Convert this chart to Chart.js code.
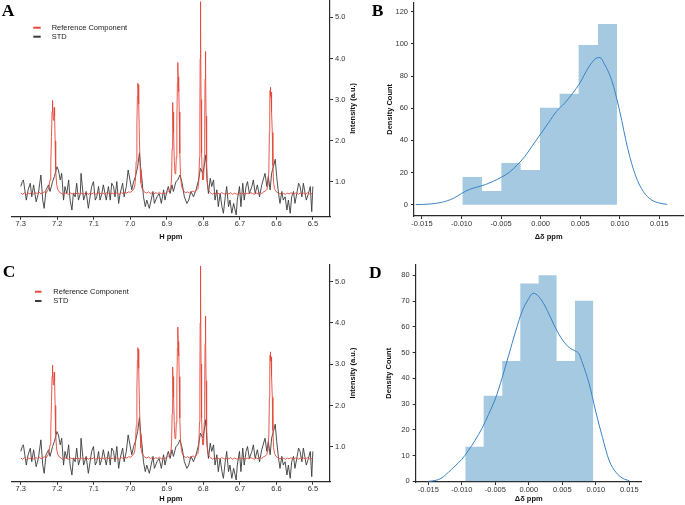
<!DOCTYPE html>
<html><head><meta charset="utf-8">
<script src="https://cdn.jsdelivr.net/npm/chart.js@4/dist/chart.umd.min.js"></script>
<style>
html,body{margin:0;padding:0;background:#fff;overflow:hidden;width:685px;height:505px}
canvas{position:absolute;left:0;top:0}
</style>
</head><body>
<canvas id="cA" width="685" height="505"></canvas>
<canvas id="cB" width="685" height="505"></canvas>
<canvas id="cC" width="685" height="505"></canvas>
<canvas id="cD" width="685" height="505"></canvas>
<script>
// ---------- data ----------
const nmrXTicks = [7.3, 7.2, 7.1, 7.0, 6.9, 6.8, 6.7, 6.6, 6.5];
const nmrYTicks = [1.0, 2.0, 3.0, 4.0, 5.0];
const deltaTicks = [-0.015, -0.010, -0.005, 0.000, 0.005, 0.010, 0.015];
const countTicksB = [0, 20, 40, 60, 80, 100, 120];
const countTicksD = [0, 10, 20, 30, 40, 50, 60, 70, 80];

const stdPpm = [7.300,7.296,7.293,7.285,7.280,7.274,7.270,7.265,7.258,7.252,
7.245,7.240,7.236,7.231,7.224,7.220,7.213,7.208,7.201,7.197,
7.192,7.188,7.183,7.179,7.174,7.169,7.165,7.160,7.156,7.151,
7.147,7.142,7.137,7.135,7.128,7.121,7.115,7.106,7.101,7.096,
7.092,7.087,7.083,7.078,7.074,7.066,7.060,7.055,7.051,7.046,
7.042,7.037,7.032,7.028,7.021,7.017,7.011,7.006,7.001,6.996,
6.991,6.986,6.980,6.975,6.972,6.968,6.964,6.959,6.955,6.948,
6.943,6.938,6.934,6.927,6.921,6.915,6.909,6.905,6.900,6.896,
6.891,6.886,6.882,6.875,6.870,6.864,6.858,6.852,6.845,6.840,
6.834,6.827,6.820,6.813,6.808,6.801,6.798,6.793,6.790,6.786,
6.781,6.777,6.772,6.768,6.763,6.759,6.754,6.749,6.745,6.740,
6.736,6.731,6.727,6.722,6.717,6.710,6.707,6.701,6.697,6.692,
6.688,6.683,6.679,6.674,6.667,6.663,6.658,6.652,6.646,6.640,
6.631,6.626,6.622,6.617,6.613,6.608,6.603,6.599,6.594,6.590,
6.585,6.581,6.576,6.571,6.567,6.562,6.558,6.553,6.549,6.544,
6.539,6.535,6.530,6.526,6.518,6.512,6.507,6.503,6.500];
const stdIntensity = [0.89,1.01,1.05,0.56,0.81,0.97,0.64,0.93,0.52,0.72,
1.17,0.56,0.36,0.81,0.93,0.77,1.01,1.13,1.37,1.29,
1.05,1.21,0.56,0.89,0.72,1.05,0.56,0.32,0.72,0.64,
0.97,0.56,0.72,1.21,0.56,0.77,0.36,0.89,1.01,0.56,
0.64,0.89,0.56,0.72,0.93,0.56,0.89,0.56,0.97,0.89,
0.64,1.01,0.48,0.72,0.97,0.64,0.89,1.29,1.05,0.81,
1.01,1.13,1.37,1.71,1.37,1.05,0.64,0.40,0.56,0.36,
0.56,0.77,0.48,0.64,0.72,0.48,0.81,0.56,0.77,0.89,
0.72,0.93,0.77,1.01,1.05,1.17,0.97,0.64,0.48,0.56,
0.77,0.64,0.81,1.05,1.33,1.21,1.37,1.66,1.05,0.72,
1.09,0.89,1.05,0.56,0.81,0.40,0.72,0.40,0.24,0.64,
0.89,0.40,0.56,0.24,0.48,0.20,0.56,0.89,0.40,0.97,
0.56,0.89,1.01,0.72,0.89,1.05,0.72,0.93,0.64,0.93,
1.21,0.89,1.13,0.81,1.21,1.37,1.55,1.13,0.72,0.48,
0.77,0.56,0.64,0.32,0.56,0.24,0.64,0.77,0.48,0.72,
0.97,0.89,0.64,0.97,0.56,0.72,0.89,0.28,0.89];

const refPpm = [7.300,7.295,7.290,7.285,7.280,7.275,7.270,7.265,7.260,7.255,7.250,7.245,7.240,7.235,7.230,
7.226,7.223,7.220,7.218,7.216,7.2145,7.2135,7.2125,7.2110,7.2095,7.2085,7.2075,7.2060,7.2045,7.2020,7.1990,7.1950,
7.190,7.185,7.180,7.175,7.170,7.165,7.160,7.155,7.150,7.145,7.140,7.135,7.130,7.125,7.120,7.115,7.110,7.105,
7.100,7.095,7.090,7.085,7.080,7.075,7.070,7.065,7.060,7.055,7.050,7.045,7.040,7.035,7.030,7.025,7.020,7.015,
7.010,7.005,7.000,6.995,6.991,6.988,6.986,6.984,6.982,6.9805,6.9795,6.9785,6.9775,6.9765,6.975,6.973,6.971,
6.968,6.964,6.960,6.955,6.950,6.945,6.940,6.935,6.930,6.925,6.920,6.915,6.910,6.905,6.900,6.896,6.892,6.889,
6.887,6.8855,6.8845,6.8836,6.8828,6.8820,6.8810,6.8795,6.8775,6.8755,6.8740,6.8725,6.8710,6.8700,6.8690,6.8680,
6.8670,6.8660,6.8645,6.8625,6.8600,6.8570,6.853,6.848,6.843,6.838,6.833,6.828,6.823,6.819,6.815,6.8125,6.8105,
6.8095,6.8087,6.8080,6.8072,6.8062,6.8048,6.8030,6.8010,6.7990,6.7975,6.7962,6.7952,6.7943,6.7935,6.7925,6.7910,
6.7890,6.7865,6.783,6.779,6.775,6.770,6.765,6.760,6.755,6.750,6.745,6.740,6.735,6.730,6.725,6.720,6.715,6.710,
6.705,6.700,6.695,6.690,6.685,6.680,6.675,6.670,6.665,6.660,6.655,6.650,6.645,6.640,6.635,6.630,6.626,6.623,
6.6205,6.6190,6.6180,6.6172,6.6164,6.6155,6.6146,6.6137,6.6125,6.6110,6.6095,6.6075,6.6050,6.601,6.596,6.590,
6.585,6.580,6.575,6.570,6.565,6.560,6.555,6.550,6.545,6.540,6.535,6.530,6.525,6.520,6.515,6.510,6.505,6.500];
const refIntensity = [0.73,0.70,0.74,0.69,0.73,0.71,0.75,0.70,0.74,0.72,0.76,0.71,0.74,0.76,0.74,
0.80,0.88,1.05,1.40,2.10,2.70,2.98,2.75,2.50,2.60,2.81,2.60,2.00,1.30,0.95,0.82,0.76,
0.73,0.70,0.74,0.72,0.70,0.74,0.71,0.73,0.70,0.74,0.71,0.73,0.70,0.72,0.74,0.70,0.73,0.71,
0.74,0.70,0.72,0.74,0.71,0.73,0.70,0.74,0.72,0.70,0.73,0.71,0.74,0.72,0.70,0.74,0.72,0.75,
0.73,0.76,0.75,0.78,0.82,0.90,1.05,1.50,2.40,3.10,3.40,3.28,3.36,2.90,2.00,1.30,0.98,
0.84,0.78,0.75,0.73,0.76,0.72,0.74,0.71,0.74,0.72,0.75,0.71,0.73,0.72,0.75,0.77,0.80,0.88,
1.10,1.80,2.60,2.93,2.55,2.70,2.20,1.50,1.20,1.25,1.60,2.50,3.40,3.90,3.55,3.20,
3.35,2.70,1.70,1.15,0.92,0.82,0.77,0.74,0.76,0.73,0.76,0.78,0.75,0.80,0.84,1.00,1.60,
2.60,4.00,5.38,4.60,3.00,1.70,1.20,1.05,1.15,1.60,2.60,3.50,4.17,3.70,2.60,1.50,
1.00,0.82,0.76,0.73,0.70,0.74,0.71,0.73,0.70,0.74,0.72,0.70,0.73,0.71,0.74,0.70,0.73,0.71,
0.70,0.73,0.71,0.74,0.70,0.73,0.71,0.74,0.72,0.70,0.73,0.71,0.75,0.72,0.76,0.78,0.82,0.92,
1.30,2.20,2.90,3.22,3.30,3.08,3.18,3.05,2.70,2.20,1.40,0.98,0.84,0.77,0.74,0.71,
0.74,0.72,0.70,0.73,0.71,0.74,0.70,0.72,0.74,0.70,0.73,0.71,0.73,0.70,0.74,0.71,0.72,0.70];

// panel B histogram + density
const histBEdges = [-0.00990,-0.00741,-0.00497,-0.00253,-0.00008,0.00240,0.00480,0.00725,0.00965];
const histBCounts = [17.2,8.5,25.9,21.6,60.3,69.0,99.3,112.3];
const kdeBX = [-0.0158,-0.0140,-0.0125,-0.0110,-0.0100,-0.0090,-0.0080,-0.0070,-0.0060,-0.0050,-0.0040,-0.0030,-0.0020,-0.0010,0.0000,0.0010,0.0020,0.0030,0.0040,0.0050,0.0060,0.0070,0.0075,0.0080,0.0090,0.0100,0.0110,0.0120,0.0130,0.0140,0.0150,0.0160];
const kdeBY = [0.1,0.4,1.5,4.0,7.0,9.5,11.0,12.5,14.5,17.0,20.0,24.5,30.0,37.0,44.0,51.0,58.0,63.0,69.0,76.0,85.0,91.0,91.5,88.0,77.0,58.0,35.0,18.0,8.0,3.0,1.0,0.2];

// panel D histogram + density
const histDEdges = [-0.00948,-0.00674,-0.00396,-0.00127,0.00147,0.00415,0.00689,0.00963];
const histDCounts = [13.4,33.2,46.7,76.8,80.0,46.7,70.1];
const kdeDX = [-0.0150,-0.0140,-0.0130,-0.0120,-0.0110,-0.0100,-0.0090,-0.0080,-0.0070,-0.0060,-0.0050,-0.0040,-0.0030,-0.0020,-0.0010,0.0000,0.0006,0.0010,0.0020,0.0030,0.0040,0.0050,0.0060,0.0070,0.0075,0.0080,0.0090,0.0100,0.0110,0.0120,0.0130,0.0140,0.0150];
const kdeDY = [0.0,0.3,1.3,3.5,6.0,8.5,12.0,16.0,20.5,26.0,32.0,40.0,49.0,58.0,66.0,71.0,73.0,72.8,70.0,65.0,59.5,55.0,52.0,50.5,49.5,46.0,38.0,27.0,17.0,8.0,3.5,1.2,0.2];

// ---------- helpers ----------
const W = 685, H = 505;
const FAM = "'Liberation Sans', Arial, Helvetica, sans-serif";
const tickFont = {family: FAM, size: 7.5};
const titleFont = {family: FAM, size: 7.5, weight: 'bold', lineHeight: 1.2};
const AXIS = '#2a2a2a';

const extrasPlugin = {
  id: 'extras',
  afterDraw(chart, args, opts) {
    const ctx = chart.ctx;
    (opts.texts || []).forEach(t => {
      ctx.save();
      ctx.font = t.font;
      ctx.fillStyle = t.color || '#000';
      ctx.textAlign = t.align || 'left';
      ctx.textBaseline = t.baseline || 'alphabetic';
      ctx.translate(t.x, t.y);
      if (t.rot) ctx.rotate(t.rot);
      ctx.fillText(t.text, 0, 0);
      ctx.restore();
    });
    if (opts.legend) {
      const L = opts.legend;
      chart.data.datasets.forEach((d, i) => {
        const y = L.y + i * L.dy;
        ctx.save();
        ctx.strokeStyle = d.borderColor;
        ctx.lineWidth = 2;
        ctx.beginPath(); ctx.moveTo(L.x, y); ctx.lineTo(L.x + L.w, y); ctx.stroke();
        ctx.font = '7.5px ' + FAM;
        ctx.fillStyle = '#222';
        ctx.textBaseline = 'middle';
        ctx.textAlign = 'left';
        ctx.fillText(d.label, L.tx, y);
        ctx.restore();
      });
    }
  }
};

function fixedTicks(list) {
  return s => { s.ticks = list.map(v => ({value: v})); };
}
function noPad(size, isX) {
  return s => {
    if (isX) s.height = size; else s.width = size;
    s.paddingTop = 0; s.paddingBottom = 0; s.paddingLeft = 0; s.paddingRight = 0;
  };
}
function axisCommon() {
  return {
    grid: {drawOnChartArea: false, drawTicks: true, tickLength: 3, color: AXIS, lineWidth: 1},
    border: {display: true, color: AXIS, width: 1.2},
  };
}

function makeNmr(id, area, letter, legend, sideX) {
  const wY = 30;
  const cy = (area.t + area.b) / 2;
  return new Chart(document.getElementById(id), {
    type: 'line',
    data: {datasets: [
      {label: 'Reference Component', data: refPpm.map((x, i) => ({x, y: refIntensity[i]})),
       borderColor: '#e5483b', borderWidth: 0.9, pointRadius: 0, tension: 0},
      {label: 'STD', data: stdPpm.map((x, i) => ({x, y: stdIntensity[i]})),
       borderColor: '#3a3a3a', borderWidth: 0.9, pointRadius: 0, tension: 0}
    ]},
    options: {
      responsive: false, animation: false, devicePixelRatio: 1,
      layout: {padding: {left: area.l, right: W - area.r - wY, top: area.t, bottom: H - area.b - area.hX}},
      plugins: {
        legend: {display: false}, tooltip: {enabled: false},
        extras: {
          texts: [
            {text: letter.text, x: letter.x, y: letter.y, font: "bold 17.5px 'Liberation Serif', 'Times New Roman', serif"},
            {text: 'Intensity (a.u.)', x: sideX, y: cy, rot: -Math.PI / 2, align: 'center', baseline: 'middle', font: 'bold 7.5px ' + FAM, color: '#111'}
          ],
          legend: legend
        }
      },
      scales: {
        x: Object.assign(axisCommon(), {
          type: 'linear', reverse: true, min: 6.453, max: 7.325,
          afterBuildTicks: fixedTicks(nmrXTicks), afterFit: noPad(area.hX, true),
          ticks: {font: tickFont, color: '#333', padding: 0, maxRotation: 0, autoSkip: false, callback: v => v.toFixed(1)},
          title: {display: true, text: 'H ppm', font: titleFont, color: '#111', padding: 0}
        }),
        y: Object.assign(axisCommon(), {
          type: 'linear', position: 'right', min: 0.157, max: 5.42,
          afterBuildTicks: fixedTicks(nmrYTicks), afterFit: noPad(wY, false),
          ticks: {font: tickFont, color: '#333', padding: 2, autoSkip: false, callback: v => v.toFixed(1)}
        })
      }
    },
    plugins: [extrasPlugin]
  });
}

function makeHist(id, area, letter, edges, counts, kx, ky, xr, yr, yTicks) {
  const hist = edges.map((e, i) => ({x: e, y: counts[Math.min(i, counts.length - 1)]}));
  return new Chart(document.getElementById(id), {
    type: 'line',
    data: {datasets: [
      {label: 'density', data: kx.map((x, i) => ({x, y: ky[i]})), borderColor: '#3b82c4', borderWidth: 1,
       pointRadius: 0, cubicInterpolationMode: 'monotone', fill: false},
      {label: 'count', data: hist, stepped: 'before', borderWidth: 0, borderColor: 'rgba(0,0,0,0)',
       backgroundColor: 'rgba(31,119,180,0.4)', fill: 'origin', pointRadius: 0}
    ]},
    options: {
      responsive: false, animation: false, devicePixelRatio: 1,
      layout: {padding: {left: area.l - area.wY, right: W - area.r, top: area.t, bottom: H - area.b - area.hX}},
      plugins: {
        legend: {display: false}, tooltip: {enabled: false},
        extras: {texts: [{text: letter.text, x: letter.x, y: letter.y, font: "bold 17.5px 'Liberation Serif', 'Times New Roman', serif"}]}
      },
      scales: {
        x: Object.assign(axisCommon(), {
          type: 'linear', min: xr[0], max: xr[1],
          afterBuildTicks: fixedTicks(deltaTicks), afterFit: noPad(area.hX, true),
          ticks: {font: tickFont, color: '#333', padding: 0, maxRotation: 0, autoSkip: false, callback: v => v.toFixed(3)},
          title: {display: true, text: 'Δδ ppm', font: titleFont, color: '#111', padding: 0}
        }),
        y: Object.assign(axisCommon(), {
          type: 'linear', position: 'left', min: yr[0], max: yr[1],
          afterBuildTicks: fixedTicks(yTicks), afterFit: noPad(area.wY, false),
          ticks: {font: tickFont, color: '#333', padding: 3, autoSkip: false, callback: v => String(v)},
          title: {display: true, text: 'Density Count', font: titleFont, color: '#111', padding: 0}
        })
      }
    },
    plugins: [extrasPlugin]
  });
}

makeNmr('cA', {l: 11.7, t: 0, r: 330, b: 216.7, hX: 24.5},
  {text: 'A', x: 1.7, y: 15.5}, {x: 33.3, w: 7.4, tx: 51.7, y: 27.7, dy: 9}, 353);
makeNmr('cC', {l: 11.7, t: 264.3, r: 330, b: 481.7, hX: 21.8},
  {text: 'C', x: 2.7, y: 276.7}, {x: 35, w: 6.5, tx: 53.3, y: 291.7, dy: 9.3}, 353);
makeHist('cB', {l: 414, t: 2.7, r: 683.3, b: 216, hX: 25.8, wY: 28.5},
  {text: 'B', x: 371.7, y: 15.7}, histBEdges, histBCounts, kdeBX, kdeBY,
  [-0.01601, 0.01803], [-7.03, 125.6], countTicksB);
makeHist('cD', {l: 415.7, t: 264.5, r: 641.7, b: 482, hX: 21.5, wY: 31.2},
  {text: 'D', x: 369, y: 277.7}, histDEdges, histDCounts, kdeDX, kdeDY,
  [-0.01688, 0.01685], [-0.27, 84.2], countTicksD);
</script>
</body></html>
